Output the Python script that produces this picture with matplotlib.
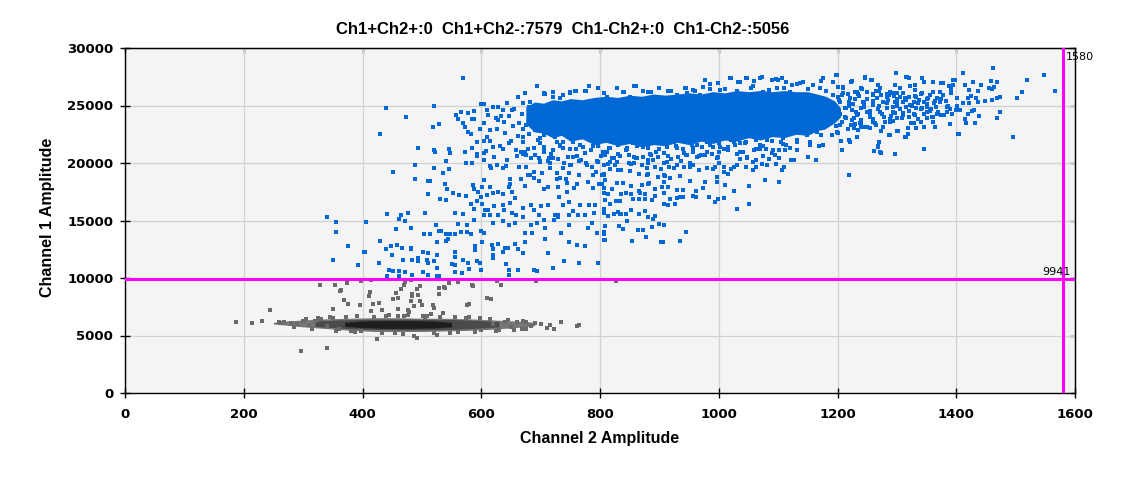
import matplotlib
matplotlib.use("Agg")
import matplotlib.pyplot as plt

# ---------------- data ----------------
title_text = "Ch1+Ch2+:0  Ch1+Ch2-:7579  Ch1-Ch2+:0  Ch1-Ch2-:5056"
x_label = "Channel 2 Amplitude"
y_label = "Channel 1 Amplitude"
x_ticks = [0, 200, 400, 600, 800, 1000, 1200, 1400, 1600]
y_ticks = [0, 5000, 10000, 15000, 20000, 25000, 30000]
threshold_ch2 = 1580
threshold_ch1 = 9941

# solid (saturated) core of the Ch1+ cluster, per Ch2 amplitude
blue_core_x = [675, 690, 705, 720, 735, 750, 770, 790, 810, 830, 850, 870, 890, 910, 930,
               950, 970, 990, 1010, 1030, 1050, 1070, 1090, 1110, 1130, 1150, 1165, 1180, 1195, 1205]
blue_core_lo = [23400, 22700, 22600, 22200, 22400, 21900, 22100, 21600, 21800, 21500, 21700, 21400, 21600, 21500, 21800,
                21600, 21900, 21700, 22000, 21900, 22200, 22000, 22300, 22200, 22500, 22400, 22800, 23000, 23500, 24000]
blue_core_hi = [24900, 25300, 25200, 25500, 25400, 25600, 25500, 25700, 25800, 25700, 25900, 25800, 26000, 25900, 26000,
                26100, 26000, 26200, 26100, 26300, 26200, 26300, 26200, 26300, 26200, 26200, 26000, 25800, 25400, 24800]

# saturated core of the negative cluster (three density levels)
grey_outer_x = [250, 270, 300, 340, 380, 420, 460, 500, 540, 580, 620, 660, 690]
grey_outer_lo = [6000, 5900, 5750, 5600, 5450, 5350, 5350, 5350, 5400, 5450, 5550, 5700, 5850]
grey_outer_hi = [6150, 6250, 6350, 6450, 6500, 6550, 6550, 6500, 6500, 6450, 6350, 6250, 6150]
grey_mid_x = [320, 360, 400, 440, 480, 520, 560, 600, 630]
grey_mid_lo = [5800, 5650, 5550, 5500, 5480, 5500, 5550, 5650, 5750]
grey_mid_hi = [6250, 6350, 6400, 6420, 6420, 6400, 6380, 6300, 6200]
grey_dark_x = [370, 400, 440, 480, 520, 550]
grey_dark_lo = [5800, 5680, 5620, 5620, 5650, 5750]
grey_dark_hi = [6150, 6260, 6300, 6300, 6260, 6150]

blue_x = [
    570, 440, 474, 521, 430, 529, 518, 494, 520, 522, 545, 547, 541, 489, 452, 521, 545, 536, 489, 511,
    514, 539, 542, 511, 530, 540, 552, 562, 575, 341, 356, 356, 406, 442, 464, 461, 476, 472, 506, 482,
    456, 375, 403, 405, 351, 393, 430, 448, 458, 440, 466, 481, 482, 450, 468, 483, 428, 444, 452, 462,
    471, 442, 462, 483, 525, 502, 511, 494, 494, 508, 511, 521, 526, 502, 511, 525, 528, 523, 528, 532,
    541, 548, 555, 541, 544, 525, 513, 503, 556, 570, 561, 576, 587, 566, 576, 583, 556, 556, 570, 555,
    550, 556, 568, 578, 580, 590, 590, 598, 599, 593, 602, 605, 600, 618, 619, 629, 620, 640, 645, 637,
    619, 642, 647, 647, 662, 662, 671, 656, 673, 674, 686, 684, 694, 688, 694, 708, 708, 721, 740, 713,
    735, 747, 764, 761, 774, 797, 807, 809, 795, 780, 787, 722, 730, 747, 705, 657, 646, 637, 620, 629,
    615, 605, 607, 612, 639, 651, 659, 671, 688, 697, 724, 730, 747, 763, 775, 790, 792, 806, 809, 782,
    767, 755, 747, 737, 731, 713, 700, 684, 671, 649, 637, 622, 602, 593, 583, 587, 602, 600, 586, 588,
    615, 610, 620, 629, 637, 651, 656, 649, 649, 647, 667, 674, 688, 698, 713, 706, 730, 745, 728, 742,
    745, 757, 762, 779, 789, 799, 806, 804, 789, 765, 748, 728, 715, 703, 688, 678, 664, 637, 617, 604,
    595, 604, 615, 626, 642, 676, 691, 699, 715, 730, 738, 751, 765, 777, 787, 795, 806, 593, 593, 605,
    608, 622, 620, 637, 647, 659, 667, 671, 679, 683, 697, 705, 714, 720, 738, 750, 761, 755, 604, 615,
    593, 585, 574, 584, 573, 583, 577, 573, 570, 584, 587, 560, 558, 566, 577, 588, 600, 604, 609, 620,
    629, 605, 615, 626, 629, 639, 647, 651, 644, 654, 662, 671, 671, 664, 673, 662, 694, 705, 708, 720,
    737, 750, 758, 777, 782, 806,
    612, 633, 655, 668, 680, 690, 685, 676, 690, 681, 695, 640, 650, 632, 660, 643, 699, 706, 712, 725,
    732, 745, 760, 771, 785, 796, 805, 610, 598, 625, 636, 700, 722,
    806, 807, 807, 808, 854, 864, 872, 878, 903, 906, 935, 944, 888, 900, 907, 832, 838, 846, 890, 814,
    824, 833, 843, 831, 836, 853, 865, 875, 881, 893, 807, 807, 817, 827, 834, 856, 865, 875, 888, 908,
    914, 918, 926, 934, 939, 907, 893, 868, 876, 853, 844, 836, 814, 806, 806, 804, 809, 821, 828, 838,
    853, 866, 871, 880, 882, 892, 905, 908, 915, 930, 939, 930, 957, 962, 961, 974, 984, 994, 998, 1009,
    1026, 1051, 1031, 1051, 1102, 1078, 1220, 1011, 997, 997, 976, 952, 935, 910, 908, 897, 881, 866, 851, 831,
    836, 816, 807, 814, 826, 848, 858, 871, 881, 893, 903, 917, 930, 942, 952, 952, 967, 981, 991, 994,
    1001, 1008, 1016, 1021, 1026, 1035, 1046, 1057, 1063, 1072, 1082, 1097, 1107, 1110, 1048, 1062, 1075, 1085, 1094, 1102,
    1122, 1151, 1164, 1131, 1153, 1169, 1206, 1220, 1233, 1270, 1262, 1274, 1296, 1269, 1286, 1208, 1102, 1112, 1080, 1063,
    1070, 1036, 1041, 1016, 999, 988, 977, 967, 957, 945, 932, 920, 908, 897, 885, 873, 861, 848, 834, 821,
    809, 971, 991, 1008, 1028, 1046, 1063, 1089, 1109, 1132, 1153, 1173, 1191, 1218, 1235, 1254, 1274, 1301,
    815, 830, 845, 862, 880, 895, 912, 925, 940, 955, 985, 1000, 1020, 1040, 1075, 1120, 1145, 1165, 1200, 1240,
    1265, 900, 870, 830,
    977, 1020, 1046, 1072, 1097, 1107, 1198, 1247, 1257, 1299, 860, 828, 900, 806, 838, 999, 1035, 1060, 1124, 1137,
    1173, 1222, 1269, 1296, 944, 974, 947, 1210, 1230, 1270, 1284,
    880, 920, 960, 985, 1010, 1030, 1055, 1085, 1110, 1150, 1180, 1200, 1240, 1260, 1300,
    1317, 1320, 1343, 1412, 1462, 1548, 1519, 1567, 1511, 1503, 1473, 1468, 1461, 1449, 1436, 1422, 1412, 1402, 1425, 1434,
    1419, 1455, 1460, 1464, 1469, 1459, 1441, 1429, 1437, 1422, 1414, 1398, 1395, 1388, 1391, 1391, 1377, 1377, 1361, 1345,
    1331, 1400, 1407, 1427, 1430, 1419, 1439, 1431, 1417, 1415, 1393, 1390, 1404, 1469, 1473, 1496, 1345, 1384, 1386, 1380,
    1368, 1365, 1346, 1333, 1319, 1361, 1340, 1329, 1323, 1314, 1318, 1302, 1390, 1372, 1364, 1353, 1350, 1343, 1340, 1361,
    1373, 1402, 1363, 1351, 1336, 1328, 1321, 1311, 1294, 1286, 1341, 1355, 1328, 1311, 1297, 1294,
    1300, 1305, 1310, 1315, 1320, 1325, 1332, 1338, 1345, 1350, 1358, 1366, 1370, 1375, 1382, 1300, 1308, 1320, 1335, 1350,
    1360, 1293, 1297, 1316, 1330, 1305,
]
blue_y = [
    27360, 24750, 23970, 24925, 22520, 23360, 23100, 21270, 21130, 20950, 21180, 20900, 20140, 19790, 19180, 19530, 19500, 19100, 18600, 18400,
    18400, 18170, 17760, 17270, 16830, 16800, 17360, 17240, 17130, 15270, 14830, 13970, 14830, 15530, 15500, 15150, 15620, 14920, 15620, 14310,
    14230, 12750, 12220, 12220, 11530, 11100, 13180, 12800, 12900, 12480, 12570, 12500, 12650, 11970, 11530, 11530, 11270, 10660, 10570, 10570,
    10490, 10140, 10140, 10230, 10140, 12220, 12140, 11700, 11450, 11530, 11280, 11440, 11960, 10490, 10230, 10830, 10170, 14570, 14050, 14050,
    13790, 13790, 13790, 13200, 13400, 13100, 13790, 13790, 15620, 15530, 14660, 14570, 15010, 13970, 13970, 13790, 12220, 11790, 11530, 11100,
    11180, 10490, 10400, 11270, 10780, 12750, 12400, 11270, 10660, 11440, 13100, 13900, 14100, 12900, 12550, 13000, 11970, 12570, 12570, 12250,
    11700, 11180, 10660, 10230, 10660, 12480, 12140, 13000, 13100, 13880, 13880, 14570, 14750, 10660, 10570, 13360, 14310, 10830, 11440, 12140,
    13880, 13100, 11270, 12840, 12750, 11270, 13880, 13270, 13880, 14310, 14750, 15080, 15330, 14570, 15080, 14750, 14570, 14920, 14750, 15440,
    15440, 15440, 15880, 15880, 15880, 15620, 15440, 15270, 15910, 15440, 15440, 15440, 15440, 15440, 15440, 15620, 16310, 15910, 16780, 16310,
    16310, 15790, 16580, 16310, 17010, 16310, 16230, 16310, 16050, 16490, 16310, 16230, 16400, 16660, 16400, 16020, 17880, 17010, 18060, 17750,
    17880, 17180, 17360, 17450, 17270, 17450, 16920, 18140, 18580, 17880, 18580, 17970, 18660, 18400, 17880, 17700, 17880, 17450, 18580, 18580,
    18230, 17790, 18140, 18320, 17790, 18140, 17360, 18920, 18920, 18920, 19100, 19100, 19530, 19100, 19180, 18920, 19620, 19530, 19530, 18490,
    17450, 20230, 19740, 19800, 19740, 19620, 20660, 20140, 19970, 20310, 19530, 19790, 20140, 19970, 19620, 20140, 19790, 20620, 20800, 20910,
    21080, 20490, 21360, 21180, 21710, 21100, 21000, 20750, 21180, 20400, 20400, 21180, 20400, 21100, 21840, 21180, 20580, 21800, 21880, 21880,
    21800, 21270, 19970, 19970, 20920, 22490, 22690, 23100, 23450, 23800, 23800, 23800, 24140, 24400, 24320, 24550, 25100, 25100, 24580, 24840,
    24840, 23450, 22840, 22960, 23710, 23530, 24090, 24580, 25190, 23190, 22320, 22230, 22930, 23450, 26060, 25710, 26670, 26060, 25970, 25710,
    25880, 26060, 26230, 26230, 26670, 26060,
    24200, 24100, 24700, 24300, 24900, 24500, 23800, 23300, 22900, 22500, 22000, 22600, 21900, 21500, 20600, 20300, 21700, 22400, 23000, 22300,
    21500, 22600, 22200, 21400, 21100, 21500, 21000, 22300, 23000, 23900, 24600, 23700, 24000,
    13960, 13270, 13790, 14500, 13180, 14140, 14140, 13530, 13100, 13100, 13180, 13960, 14400, 14710, 14600, 14500, 14300, 14920, 15090, 15350,
    15530, 15530, 15530, 15750, 15600, 15880, 15530, 15790, 15270, 15350, 15970, 15620, 16400, 16660, 16660, 16840, 16840, 16840, 16750, 16400,
    16320, 16840, 16400, 17010, 17010, 17360, 17100, 17360, 17300, 17270, 17360, 17270, 17270, 17360, 17820, 18140, 18490, 17700, 18230, 18230,
    18000, 17530, 18050, 18140, 18230, 17700, 17880, 18320, 17880, 17620, 17620, 16920, 17130, 17050, 17530, 17790, 17010, 16650, 16830, 16920,
    17530, 17970, 15960, 16400, 18320, 18490, 18920, 18050, 18330, 18800, 18320, 18400, 18830, 18870, 18950, 18750, 19010, 19010, 19270, 19360,
    19360, 19450, 19010, 19880, 19790, 19970, 19970, 19790, 19970, 19620, 19450, 19620, 19790, 19620, 19960, 19650, 19360, 19530, 19520, 19620,
    19970, 19620, 19010, 19450, 19620, 20310, 19620, 19360, 19620, 19880, 19790, 19880, 19360, 19620, 20400, 20230, 20580, 20310, 20660, 20400,
    20230, 20490, 20230, 21100, 21530, 21450, 21880, 21970, 22230, 21790, 21010, 20840, 20750, 21450, 22400, 21100, 21100, 21100, 21180, 21180,
    21180, 20920, 21000, 21100, 20490, 20750, 20660, 20580, 20920, 20660, 20490, 20310, 20840, 20490, 20750, 20490, 20400, 20660, 20580, 20400,
    20660, 21360, 21360, 21180, 21530, 21790, 21970, 21880, 21620, 21970, 21790, 22400, 22400, 22930, 22840, 23010, 22750, 22750,
    21300, 21600, 21200, 21500, 21300, 21700, 21400, 21800, 21200, 21600, 21900, 21700, 22000, 22300, 22400, 22500, 22600, 22900, 22600, 23100,
    23300, 22000, 22100, 22000,
    27190, 27360, 27360, 27450, 27280, 27360, 27620, 27450, 27190, 27800, 26670, 26490, 26490, 26060, 26140, 26930, 27010, 27100, 26750, 26930,
    27100, 27010, 26750, 26750, 26490, 26580, 26060, 26580, 26140, 26300, 25970,
    26200, 26300, 26250, 26400, 26450, 26300, 26500, 26350, 26500, 26400, 26300, 26600, 26500, 26000, 26100,
    27500, 27400, 27360, 27800, 28230, 27620, 27190, 26230, 26140, 25620, 25740, 25650, 25450, 25360, 25270, 25190, 25190, 25620, 25800, 25620,
    25620, 26540, 26450, 26580, 27010, 27100, 26750, 27010, 26230, 26320, 26750, 27190, 26800, 26670, 26100, 26400, 25880, 26930, 27010, 27010,
    26750, 24580, 24580, 24480, 24650, 24230, 24050, 23450, 23450, 23800, 24230, 23360, 22490, 23880, 24400, 22230, 21180, 24870, 24950, 24140,
    24230, 23100, 23100, 23010, 23010, 23530, 23530, 23450, 23450, 22230, 22490, 22750, 24670, 25300, 25350, 25680, 25600, 26080, 26000, 26140,
    26140, 24930, 25190, 25100, 25190, 25270, 25710, 26060, 26060, 25880, 24670, 24490, 24230, 24320, 24320, 23620,
    25000, 24700, 25300, 24900, 24500, 25000, 24800, 25500, 24300, 24900, 24700, 24900, 24400, 25600, 25400, 25600, 23900, 24000, 23800, 23900,
    24000, 24900, 25300, 25500, 25800, 25700,
]

# droplets in the dense halo around the saturated core
blue_halo_x = [
    694, 705, 721, 750, 759, 782, 797, 775, 828, 840, 858, 873, 886, 900, 915, 943, 957, 977, 986, 1002,
    1019, 1033, 1047, 1058, 1070, 1089, 1100, 1114, 1131, 1075, 1098, 1120, 968, 929, 850, 811, 733, 682, 671,
    671, 688, 676, 699, 716, 738, 755, 778, 794, 811, 828, 845, 862, 879, 895, 912, 929, 946, 963, 980,
    1002, 1025, 1047, 1070, 1092, 1114, 1131, 682, 733, 806, 879, 918, 721, 750, 817, 890, 924, 957, 997, 1030,
    1008, 1058, 766, 794, 828, 856, 912, 935, 980, 1036, 1081, 1109, 699, 727, 674, 705,
    1199, 1246, 1299, 1316, 1258, 1224, 1176, 1193, 1210, 1232, 1241, 1272, 1288, 1305, 1322, 1331, 1342, 1361, 1375, 1395,
    1266, 1283, 1300, 1314, 1322, 1333, 1345, 1356, 1367, 1375, 1384, 1401, 1342, 1350, 1359, 1331, 1311, 1300, 1288, 1277,
    1260, 1249, 1238, 1227, 1272, 1249, 1232, 1260, 1243, 1221, 1204, 1215, 1193, 1187, 1204, 1176, 1165, 1148, 1131, 1154,
    1176, 1207, 1272, 1288, 1316, 1221, 1345, 1403, 1126, 1164, 1220, 1269, 1296, 1151, 1199, 1227, 1255, 1283, 1294, 1260,
    1277, 1182, 1193, 1171, 1159, 1142,
    1198, 1203, 1208, 1212, 1217, 1222, 1226, 1231, 1236, 1240, 1245, 1250, 1254, 1259, 1263, 1268, 1273, 1278, 1283, 1288,
    1200, 1205, 1210, 1215, 1220, 1225, 1230, 1235, 1240, 1245, 1250, 1255, 1260, 1265, 1270, 1275, 1280, 1285, 1290, 1295,
    1197, 1202, 1207, 1213, 1219, 1224, 1229, 1234, 1239, 1244,
    705, 718, 732, 746, 760, 774, 788, 802, 816, 830, 844, 858, 872, 886, 900, 914, 928, 942, 956, 970,
    985, 1000, 1015, 1030, 1045, 1060, 1075, 1090, 1105, 1120, 712, 740, 768, 796, 824, 852, 880, 908, 936, 964,
]
blue_halo_y = [
    26670, 26000, 26140, 26140, 26260, 26670, 26490, 26260, 26490, 26140, 26670, 26260, 26140, 26490, 26260, 26490, 26320, 27250, 26840, 26320,
    27360, 27010, 27360, 26670, 27360, 27250, 27250, 27070, 26840, 26200, 26490, 26200, 25910, 25910, 25770, 25770, 25620, 25330, 25190,
    21850, 21270, 20690, 20110, 19530, 21270, 20550, 19820, 19240, 20980, 20110, 21270, 20400, 19530, 20980, 20110, 21270, 20690, 21560, 20980,
    21420, 21850, 20550, 21560, 21120, 21560, 21850, 18950, 18660, 18950, 18950, 18660, 20400, 19820, 20110, 20260, 19530, 19820, 20400, 19820,
    19240, 20110, 21560, 21990, 21850, 21700, 21850, 21990, 21850, 21700, 21990, 22140, 22140, 21850, 20980, 20980,
    27650, 27420, 27800, 27510, 27220, 27130, 27360, 27010, 26490, 26200, 26430, 26490, 26200, 26490, 26720, 26350, 27360, 27010, 26930, 27220,
    25620, 25770, 25330, 25620, 25040, 25770, 25330, 25910, 25620, 24170, 24460, 25620, 24750, 24460, 24030, 24170, 24170, 23880, 23590, 23160,
    23590, 23160, 23450, 23010, 24460, 24460, 24170, 25040, 25330, 25620, 25330, 24750, 24170, 23590, 23300, 23010, 22720, 22430, 21990, 21850,
    21560, 21130, 20980, 22430, 22290, 21850, 21180, 22490, 20260, 20230, 18950, 21420, 20750, 20550, 22720, 23880, 24030, 24750, 24460, 25910,
    25330, 25040, 25910, 26490, 26780, 27070,
    24100, 25500, 23600, 24800, 26000, 23300, 25100, 24400, 25800, 23700, 24900, 26200, 24200, 25400, 23500, 24700, 25900, 24000, 25200, 23800,
    25700, 24300, 26100, 23900, 25300, 24600, 23400, 26000, 24800, 23100, 25600, 24500, 23800, 26300, 25000, 24300, 23600, 25500, 24100, 25800,
    23200, 24600, 25900, 24000, 25000, 23700, 25600, 24300, 23400, 25200,
    21400, 20800, 21600, 20500, 21200, 20900, 21500, 20600, 21300, 20800, 21100, 20500, 21400, 20700, 21200, 20600, 21500, 20900, 21300, 20700,
    21600, 21000, 21400, 20800, 21700, 21100, 21500, 20900, 21800, 21300, 20200, 20000, 20300, 20100, 20400, 19900, 20300, 20000, 20200, 20500,
]

grey_x = [
    187, 214, 231, 245, 259, 262, 267, 297, 341, 425, 487, 491, 526, 329, 354, 374, 363, 362, 398, 415,
    412, 411, 418, 428, 432, 368, 376, 351, 395, 415, 445, 460, 452, 457, 464, 470, 472, 481, 484, 484,
    494, 492, 496, 481, 487, 496, 501, 477, 479, 476, 459, 459, 502, 509, 516, 518, 521, 528, 529, 537,
    539, 546, 536, 560, 576, 579, 585, 586, 609, 616, 626, 634, 693, 676, 690, 710, 722, 735, 762, 764,
    684, 668, 468, 398, 381, 827, 290, 300, 310, 320, 280, 330, 340, 620, 640, 650, 660, 700, 715, 600,
    630, 350, 360, 580, 560,
    305, 325, 345, 372, 390, 420, 440, 470, 505, 530, 555, 575, 598, 615, 645, 670, 285, 315, 355, 388,
    432, 455, 520, 548, 590, 625, 655, 675,
]
grey_y = [
    6140, 6060, 6230, 7190, 6200, 6100, 6140, 3620, 3880, 4664, 5000, 4800, 5012, 9362, 9362, 9536, 8930, 8850, 9710, 9800,
    8800, 8450, 7710, 7800, 7190, 8060, 7710, 7270, 7620, 7100, 6750, 8230, 8140, 8670, 9010, 9360, 9620, 9800, 8600, 8450,
    8490, 9010, 9270, 7970, 7560, 7970, 7620, 7190, 7020, 6750, 7270, 6670, 6670, 6670, 6840, 7620, 7360, 8580, 9100, 9200,
    9130, 9536, 6930, 9620, 7670, 7750, 9400, 9300, 8230, 8140, 9710, 9360, 9710, 6140, 6060, 5620, 5530, 6140, 5800, 5880,
    5800, 5530, 5100, 5360, 5390, 9750, 6000, 6300, 5900, 6250, 6100, 6450, 5800, 6000, 6150, 5750, 6200, 6000, 5900, 5500,
    5450, 6500, 5600, 6600, 5300,
    6450, 6550, 6600, 6650, 6700, 6650, 6700, 6680, 6650, 6620, 6600, 6550, 6500, 6450, 6380, 6300, 5700, 5550, 5420, 5300,
    5200, 5220, 5230, 5250, 5300, 5400, 5500, 5600,
]

# ---------------- styling ----------------
BLUE = "#0068d4"
GREY = "#6a6a6a"
MAGENTA = "#ff00ff"
FONT = ["Liberation Sans", "DejaVu Sans"]
MS = 4.7

fig = plt.figure(figsize=(11.25, 4.78), dpi=100)
fig.patch.set_facecolor("white")
ax = fig.add_axes([125 / 1125, 1 - 393 / 478, 950 / 1125, 345 / 478])
ax.set_facecolor("#f4f4f4")

ax.set_xlim(0, 1600)
ax.set_ylim(0, 30000)
ax.set_xticks(x_ticks)
ax.set_yticks(y_ticks)
ax.grid(True, color="#d2d2d2", linewidth=0.9, zorder=0)
ax.set_axisbelow(True)

# negative (grey) cluster
ax.fill_between(grey_outer_x, grey_outer_lo, grey_outer_hi, color="#767676", linewidth=0, zorder=2)
ax.fill_between(grey_mid_x, grey_mid_lo, grey_mid_hi, color="#4a4a4a", linewidth=0, zorder=2)
ax.fill_between(grey_dark_x, grey_dark_lo, grey_dark_hi, color="#1e1e1e", linewidth=0, zorder=2)
ax.scatter(grey_x, grey_y, s=MS, marker="s", color=GREY, linewidths=0, zorder=3)

# positive (blue) cluster
ax.fill_between(blue_core_x, blue_core_lo, blue_core_hi, color=BLUE, linewidth=0, zorder=3)
ax.scatter(blue_x, blue_y, s=MS, marker="s", color=BLUE, linewidths=0, zorder=4)
ax.scatter(blue_halo_x, blue_halo_y, s=MS, marker="s", color=BLUE, linewidths=0, zorder=4)

# thresholds
ax.axhline(threshold_ch1, color=MAGENTA, linewidth=2.2, zorder=5)
ax.axvline(threshold_ch2, color=MAGENTA, linewidth=2.2, zorder=5)
ax.annotate(str(threshold_ch2), xy=(threshold_ch2, 30000), xytext=(2, -3),
            textcoords="offset points", ha="left", va="top", fontsize=8,
            family="DejaVu Sans", color="black", annotation_clip=False, zorder=6)
ax.annotate(str(threshold_ch1), xy=(1, threshold_ch1), xycoords=("axes fraction", "data"),
            xytext=(-3, 1), textcoords="offset points", ha="right", va="bottom",
            fontsize=8, family="DejaVu Sans", color="black", zorder=6)

# spines & ticks
for sp in ax.spines.values():
    sp.set_color("black")
    sp.set_linewidth(1.0)
ax.tick_params(axis="both", which="major", direction="inout", length=7, width=1,
               colors="black", labelsize=9.5, top=False, right=False)
ax.tick_params(axis="x", pad=7)
ax.tick_params(axis="y", pad=5)
for t in ax.get_xticklabels() + ax.get_yticklabels():
    t.set_fontweight("bold")
    t.set_family("DejaVu Sans")

top = ax.secondary_xaxis("top")
top.set_xticks(x_ticks)
top.tick_params(direction="in", length=3.5, width=1, labeltop=False, colors="black")
right = ax.secondary_yaxis("right")
right.set_yticks(y_ticks)
right.tick_params(direction="in", length=3.5, width=1, labelright=False, colors="black")

ax.set_xlabel(x_label, fontsize=11.5, fontweight="bold", family=FONT)
ax.set_ylabel(y_label, fontsize=11.5, fontweight="bold", family=FONT)
ax.xaxis.set_label_coords(0.5, -45 / 345, transform=ax.transAxes)
ax.yaxis.set_label_coords(-77 / 950, 0.5 + 3 / 345, transform=ax.transAxes)
ax.xaxis.label.set_va("center")
ax.yaxis.label.set_va("center")

fig.text(0.5, 1 - 30 / 478, title_text, ha="center", va="center",
         fontsize=12, fontweight="bold", family=FONT)

fig.savefig("out.png", dpi=100, facecolor="white")
